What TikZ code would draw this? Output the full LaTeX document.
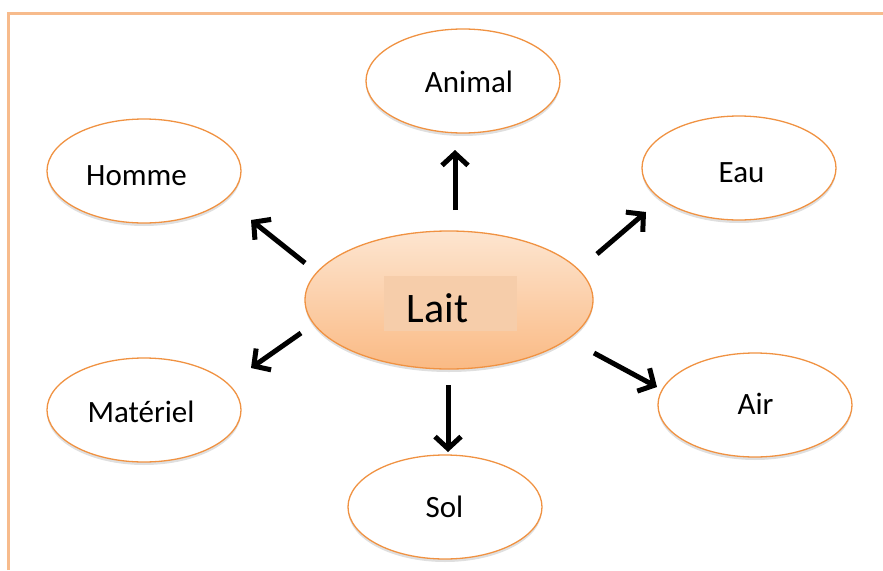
\documentclass[tikz,border=0pt]{standalone}
\usepackage{fontspec}
\setmainfont{Carlito}
\usetikzlibrary{shapes.geometric,arrows.meta,shadows,calc}
\definecolor{framecol}{RGB}{247,187,140}
\definecolor{ellcol}{RGB}{240,146,66}
\definecolor{laittop}{RGB}{253,229,208}
\definecolor{laitbot}{RGB}{250,186,132}
\definecolor{laitbox}{RGB}{246,205,170}
\tikzset{
  bubble/.style={ellipse, draw=ellcol, line width=1.3pt, fill=white,
    minimum width=194pt, minimum height=104pt, inner sep=0pt,
    drop shadow={shadow xshift=0pt, shadow yshift=-3pt, opacity=0.25, fill=gray}},
  central/.style={ellipse, draw=ellcol, line width=1.3pt,
    top color=laittop, bottom color=laitbot,
    minimum width=288pt, minimum height=138pt, inner sep=0pt,
    drop shadow={shadow xshift=0pt, shadow yshift=-3pt, opacity=0.25, fill=gray}},
  textbox/.style={rectangle, fill=laitbox, minimum width=133pt, minimum height=55pt,
    inner sep=0pt},
  word/.style={inner sep=0pt, anchor=base, font=\fontsize{31}{34}\selectfont},
  bigword/.style={inner sep=0pt, anchor=base, font=\fontsize{42}{46}\selectfont},
  arr/.style={line width=5pt, -{Straight Barb[length=12pt,width=26pt,line width=5pt]}},
  framel/.style={draw=framecol, line width=3pt}
}
\begin{document}
\begin{tikzpicture}[x=1pt,y=-1pt]
\useasboundingbox (0,0) rectangle (883,570);
\coordinate (fl) at (8,570);
\coordinate (fc) at (8,13);
\coordinate (fr) at (883,13);
\draw[framel] (fl) -- (fc) -- (fr);

\node[central] (lait) at (449,300) {};
\node[textbox] (lbox) at (450,303) {};
\node[bigword] (tlait) at (437.5,322) {Lait};

\node[bubble] (animal) at (463,81) {};
\node[bubble] (homme) at (144,171) {};
\node[bubble] (eau) at (739,168) {};
\node[bubble] (mat) at (144,410) {};
\node[bubble] (air) at (755,405) {};
\node[bubble] (sol) at (445,507) {};

\node[word] (tanimal) at (469,92) {Animal};
\node[word] (thomme) at (136.5,185) {Homme};
\node[word] (teau) at (741.5,182) {Eau};
\node[word] (tmat) at (141,422) {Matériel};
\node[word] (tair) at (755.5,414) {Air};
\node[word] (tsol) at (444.5,517) {Sol};

\draw[arr] ($(lait)+(6,-90)$) -- ($(animal)+(-8,69)$);
\draw[arr] ($(lait)+(-144,-37)$) -- ($(homme)+(107,49)$);
\draw[arr] ($(lait)+(148,-46)$) -- ($(eau)+(-93,44)$);
\draw[arr] ($(lait)+(-148,33)$) -- ($(mat)+(107,-42)$);
\draw[arr] ($(lait)+(-1,85)$) -- ($(sol)+(3,-55)$);
\draw[arr] ($(lait)+(145,53)$) -- ($(air)+(-98,-18)$);
\end{tikzpicture}
\end{document}
